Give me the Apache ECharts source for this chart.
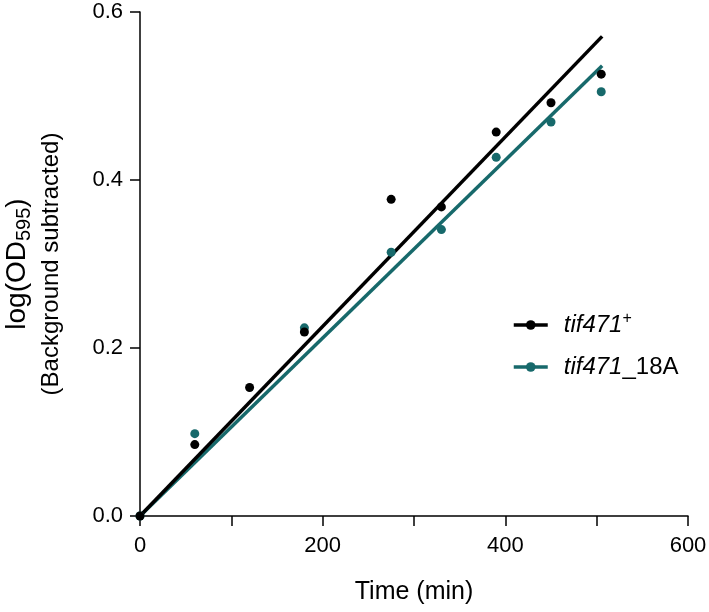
<!DOCTYPE html>
<html>
<head>
<meta charset="utf-8">
<script src="https://cdn.jsdelivr.net/npm/echarts@6/dist/echarts.min.js"></script>
<style>
html,body{margin:0;padding:0;background:#fff;}
#chart{width:709px;height:612px;}
</style>
</head>
<body>
<div id="chart"></div>
<script>
// ---- data ----
var times = [0, 60, 120, 180, 275, 330, 390, 450, 505];
var wtValues = [0, 0.085, 0.153, 0.219, 0.377, 0.368, 0.457, 0.492, 0.526];
var mutValues = [0, 0.098, null, 0.224, 0.314, 0.341, 0.427, 0.469, 0.505];
var fitTimes = [0, 506];
var wtFit = [0, 0.571];
var mutFit = [0, 0.536];
var seriesNames = ['tif471+', 'tif471_18A'];
var xTicks = [0, 200, 400, 600];
var yTicks = [0.0, 0.2, 0.4, 0.6];

var BLACK = '#000000';
var TEAL = '#17696b';
var FONT = 'Liberation Sans';

function pairs(xs, ys) {
  var out = [];
  for (var i = 0; i < xs.length; i++) {
    if (ys[i] !== null) out.push([xs[i], ys[i]]);
  }
  return out;
}

var chart = echarts.init(document.getElementById('chart'), null, {renderer: 'canvas'});
chart.setOption({
  animation: false,
  backgroundColor: '#ffffff',
  textStyle: {fontFamily: FONT},
  grid: {left: 140, right: 21, top: 12, bottom: 96, containLabel: false, outerBoundsMode: 'none'},
  legend: {
    data: seriesNames,
    orient: 'vertical',
    left: 507,
    top: 306,
    padding: 5,
    itemWidth: 34,
    itemHeight: 12,
    itemGap: 16,
    lineStyle: {width: 3.5},
    formatter: function (name) {
      if (name === 'tif471+') return '{i|tif471}{sup|+}';
      return '{i|tif471}{n|_18A}';
    },
    textStyle: {
      fontFamily: FONT,
      color: '#000',
      padding: [0, 0, 0, 11],
      rich: {
        i: {fontFamily: FONT, fontStyle: 'italic', fontSize: 24, lineHeight: 28, color: '#000'},
        n: {fontFamily: FONT, fontSize: 24, lineHeight: 28, color: '#000'},
        sup: {fontFamily: FONT, fontSize: 16, lineHeight: 28, verticalAlign: 'top', color: '#000', padding: [0, 0, 12, 0]}
      }
    }
  },
  xAxis: {
    type: 'value',
    min: 0,
    max: 600,
    interval: 100,
    name: 'Time (min)',
    nameLocation: 'middle',
    nameGap: 64,
    nameTextStyle: {fontFamily: FONT, fontSize: 25, color: '#000'},
    axisLine: {show: true, onZero: false, lineStyle: {color: '#000', width: 1.5}},
    axisTick: {show: true, length: 10, lineStyle: {color: '#000', width: 1.5}},
    axisLabel: {
      fontFamily: FONT, fontSize: 22, color: '#000', margin: 19,
      formatter: function (v) { return xTicks.indexOf(v) >= 0 ? String(v) : ''; }
    },
    splitLine: {show: false}
  },
  yAxis: {
    type: 'value',
    min: 0,
    max: 0.6,
    interval: 0.2,
    name: '{a|log(OD}{s|595}{a|)}\n{b|(Background subtracted)}',
    nameLocation: 'middle',
    nameRotate: 90,
    nameGap: 72,
    nameTextStyle: {
      fontFamily: FONT, color: '#000',
      rich: {
        a: {fontFamily: FONT, fontSize: 28, lineHeight: 34, color: '#000'},
        s: {fontFamily: FONT, fontSize: 20, lineHeight: 16, verticalAlign: 'bottom', color: '#000'},
        b: {fontFamily: FONT, fontSize: 24, lineHeight: 34, color: '#000'}
      }
    },
    axisLine: {show: true, lineStyle: {color: '#000', width: 1.5}},
    axisTick: {show: true, length: 10, lineStyle: {color: '#000', width: 1.5}},
    axisLabel: {
      fontFamily: FONT, fontSize: 22, color: '#000', margin: 17,
      formatter: function (v) {
        for (var i = 0; i < yTicks.length; i++) {
          if (Math.abs(yTicks[i] - v) < 1e-9) return yTicks[i].toFixed(1);
        }
        return '';
      }
    },
    splitLine: {show: false}
  },
  series: [
    {
      name: 'tif471_18A', type: 'line', data: pairs(fitTimes, mutFit),
      symbol: 'none', z: 2,
      lineStyle: {color: TEAL, width: 3.5}, itemStyle: {color: TEAL}
    },
    {
      name: 'tif471+', type: 'line', data: pairs(fitTimes, wtFit),
      symbol: 'none', z: 3,
      lineStyle: {color: BLACK, width: 3.5}, itemStyle: {color: BLACK}
    },
    {
      name: 'tif471_18A points', type: 'scatter', data: pairs(times, mutValues),
      symbol: 'circle', symbolSize: 9, z: 4, itemStyle: {color: TEAL, opacity: 1}
    },
    {
      name: 'tif471+ points', type: 'scatter', data: pairs(times, wtValues),
      symbol: 'circle', symbolSize: 9, z: 5, itemStyle: {color: BLACK, opacity: 1}
    }
  ]
});
</script>
</body>
</html>
